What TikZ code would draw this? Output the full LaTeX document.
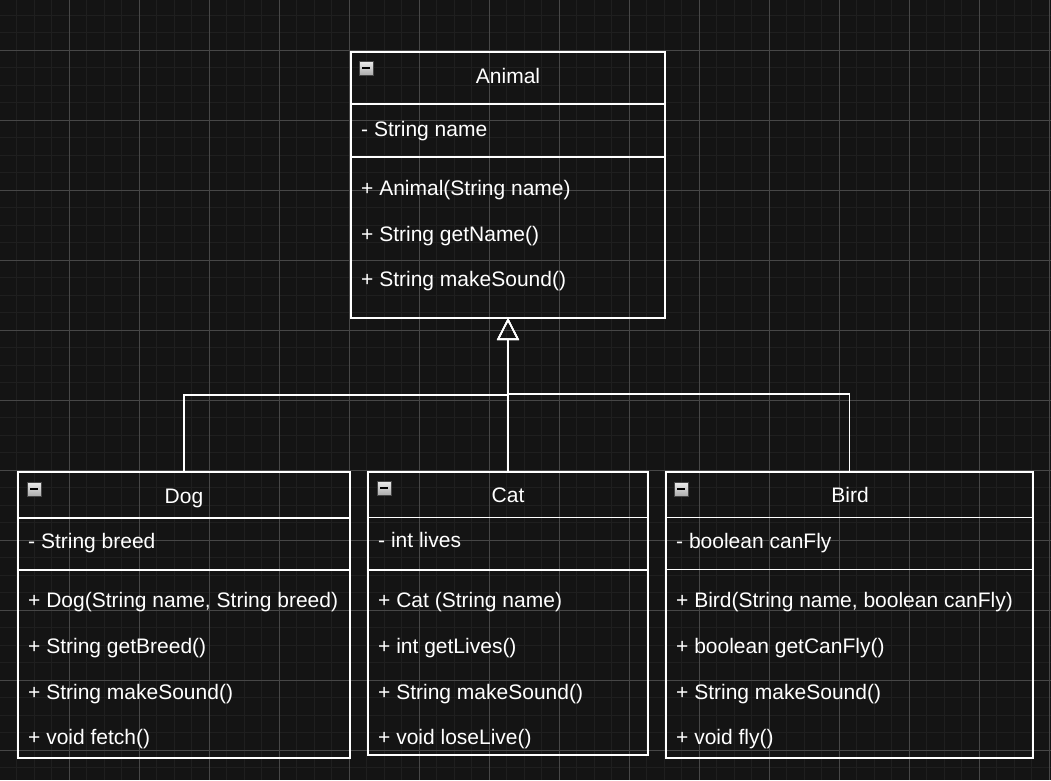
\documentclass[tikz,border=0pt]{standalone}
\usepackage{fontspec}
\setmainfont{Liberation Sans}
\usetikzlibrary{arrows.meta}
\definecolor{bg}{HTML}{141414}
\definecolor{gminor}{HTML}{1F1F1F}
\definecolor{gmajor}{HTML}{474747}
\begin{document}
\begin{tikzpicture}[x=1pt,y=-1pt,
  umlbox/.style={draw=white, line width=1.5pt, inner sep=0pt, outer sep=0pt, anchor=north west},
  divider/.style={draw=white, line width=1.5pt},
  txt/.style={text=white, inner sep=0pt, anchor=base west, font=\fontsize{21}{25}\selectfont},
  ttl/.style={text=white, inner sep=0pt, anchor=base, font=\fontsize{21}{25}\selectfont},
  inh/.style={draw=white, line width=1.6pt, -{Triangle[open, length=22pt, width=22pt, line width=1.6pt]}},
  icon/.style={top color=gray!15, bottom color=gray!65, draw=gray!55!black, line width=0.8pt},
  iconbar/.style={draw=black, line width=2pt}
]
\fill[bg] (0,0) rectangle (1051,780);
\useasboundingbox (0,0) rectangle (1051,780);
\begin{scope}
\clip (0,0) rectangle (1051,780);
\foreach \i in {0,...,61} {\draw[gminor, line width=1pt] ({-1+17.5*\i},0) -- ({-1+17.5*\i},780);}
\foreach \i in {0,...,46} {\draw[gminor, line width=1pt] (0,{-2.5+17.5*\i}) -- (1051,{-2.5+17.5*\i});}
\foreach \i in {0,...,15} {\draw[gmajor, line width=1pt] ({-1+70*\i},0) -- ({-1+70*\i},780);}
\foreach \i in {0,...,12} {\draw[gmajor, line width=1pt] (0,{-20+70*\i}) -- (1051,{-20+70*\i});}
\end{scope}

% Animal
\node[umlbox, minimum width=314pt, minimum height=266pt] (animal) at (351,52) {};
\draw[divider] (351,104) -- (665,104);
\draw[divider] (351,157) -- (665,157);
\shade[icon] (359,61) rectangle ++(14,14);
\draw[iconbar] (362,68) -- ++(8,0);
\node[ttl] (animalT) at (508,83) {Animal};
\node[txt] (animalA) at (361,136) {- String name};
\node[txt] (animalM1) at (361,195) {+ Animal(String name)};
\node[txt] (animalM2) at (361,241) {+ String getName()};
\node[txt] (animalM3) at (361,286) {+ String makeSound()};

% Dog
\node[umlbox, minimum width=332pt, minimum height=286pt] (dog) at (18,472) {};
\draw[divider] (18,518) -- (350,518);
\draw[divider] (18,570) -- (350,570);
\shade[icon] (27,482) rectangle ++(14,14);
\draw[iconbar] (30,489) -- ++(8,0);
\node[ttl] (dogT) at (184,503) {Dog};
\node[txt] (dogA) at (28,548) {- String breed};
\node[txt] (dogM1) at (28,607.5) {+ Dog(String name, String breed)};
\node[txt] (dogM2) at (28,653) {+ String getBreed()};
\node[txt] (dogM3) at (28,699) {+ String makeSound()};
\node[txt] (dogM4) at (28,744.5) {+ void fetch()};

% Cat
\node[umlbox, minimum width=280pt, minimum height=283pt] (cat) at (368,472) {};
\draw[divider] (368,517.5) -- (648,517.5);
\draw[divider] (368,570) -- (648,570);
\shade[icon] (377,481) rectangle ++(14,14);
\draw[iconbar] (380,488) -- ++(8,0);
\node[ttl] (catT) at (508,502.5) {Cat};
\node[txt] (catA) at (378,547.5) {- int lives};
\node[txt] (catM1) at (378,607.5) {+ Cat (String name)};
\node[txt] (catM2) at (378,653) {+ int getLives()};
\node[txt] (catM3) at (378,699) {+ String makeSound()};
\node[txt] (catM4) at (378,744.5) {+ void loseLive()};

% Bird
\node[umlbox, minimum width=367pt, minimum height=286pt] (bird) at (666,472) {};
\draw[divider] (666,517.5) -- (1033,517.5);
\draw[divider] (666,569.5) -- (1033,569.5);
\shade[icon] (674,482) rectangle ++(14,14);
\draw[iconbar] (677,489) -- ++(8,0);
\node[ttl] (birdT) at (850,502.5) {Bird};
\node[txt] (birdA) at (676,548) {- boolean canFly};
\node[txt] (birdM1) at (676,607.5) {+ Bird(String name, boolean canFly)};
\node[txt] (birdM2) at (676,653) {+ boolean getCanFly()};
\node[txt] (birdM3) at (676,699) {+ String makeSound()};
\node[txt] (birdM4) at (676,744.5) {+ void fly()};

% Inheritance connectors
\draw[inh] (dog.north) -- ++(0,-77) -| (animal.south);
\draw[inh] (cat.north) -- (animal.south);
\draw[inh] (bird.north) -- ++(0,-78) -| (animal.south);
\end{tikzpicture}
\end{document}
